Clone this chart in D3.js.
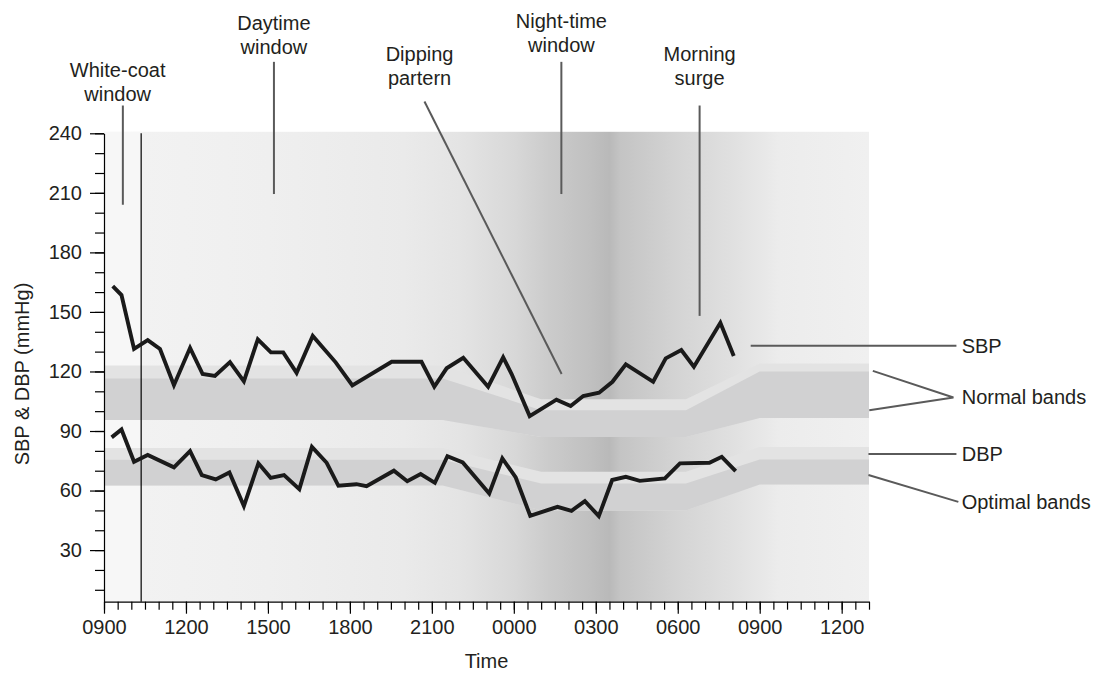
<!DOCTYPE html>
<html>
<head>
<meta charset="utf-8">
<script src="https://cdn.jsdelivr.net/npm/d3@7/dist/d3.min.js"></script>
<style>
  body { margin: 0; background: #fff; }
  text { font-family: "Liberation Sans", Arial, Helvetica, sans-serif; fill: #231f20; }
  .axis path, .axis line { stroke: #000; stroke-width: 1.2; }
  .axis text { font-size: 20px; fill: #231f20; }
</style>
</head>
<body>
<div id="chart"></div>
<script>
// readings, time in hours from midnight of day 1 (24 = 0000 next day)
var sbpTimes  = [9.32, 9.64, 10.10, 10.60, 11.05, 11.56, 12.15, 12.61, 13.06, 13.61, 14.12, 14.63, 15.11, 15.56, 16.05, 16.64, 17.48, 18.09, 19.53, 20.62, 21.09, 21.54, 22.15, 23.06, 23.61, 23.92, 24.58, 25.56, 26.08, 26.54, 27.12, 27.61, 28.10, 29.10, 29.56, 30.13, 30.59, 31.56, 32.05];
var sbpValues = [163, 158.5, 131.4, 135.8, 131.3, 113.1, 131.9, 118.7, 117.7, 124.7, 115.0, 136.2, 129.6, 129.6, 119.3, 137.9, 124.6, 113.0, 124.9, 124.9, 112.3, 121.6, 126.9, 112.3, 127.1, 118.7, 97.5, 105.8, 102.6, 107.6, 109.3, 114.8, 123.6, 114.8, 126.6, 130.8, 122.4, 144.5, 127.8];

var dbpTimes  = [9.28, 9.64, 10.10, 10.60, 11.56, 12.15, 12.58, 13.09, 13.59, 14.12, 14.65, 15.10, 15.59, 16.15, 16.61, 17.15, 17.58, 18.24, 18.61, 19.61, 20.10, 20.59, 21.11, 21.57, 22.13, 23.10, 23.58, 24.07, 24.60, 25.60, 26.11, 26.60, 27.11, 27.60, 28.10, 28.61, 29.53, 30.08, 31.16, 31.61, 32.12];
var dbpValues = [86.8, 90.8, 74.5, 77.9, 71.7, 79.9, 67.8, 65.6, 69.1, 52.2, 73.7, 66.4, 67.8, 60.7, 82.0, 74.0, 62.4, 63.2, 62.2, 70.0, 64.7, 68.3, 63.9, 77.3, 74.2, 58.5, 76.2, 66.6, 47.3, 51.8, 49.8, 54.7, 47.1, 65.3, 66.9, 64.9, 66.1, 73.7, 74.0, 77.0, 69.8];

// reference bands (mmHg), day -> night -> day
var bandTimes   = [9, 21.4, 25.0, 30.3, 33.0, 37];
var sbpOuterTop = [123, 123, 106, 106, 124, 124];
var sbpInnerTop = [116.5, 116.5, 100.5, 100.5, 120, 120];
var sbpBottom   = [95.5, 95.5, 87, 87, 96.5, 96.5];
var dbpOuterTop = [81.5, 81.5, 69.5, 69.5, 82, 82];
var dbpInnerTop = [75.5, 75.5, 63.6, 63.6, 75.6, 75.6];
var dbpBottom   = [62.5, 62.5, 50, 50, 63, 63];

var whiteCoatEnd = 10.36;

var xTickHours  = [9, 12, 15, 18, 21, 24, 27, 30, 33, 36];
var xTickLabels = ["0900", "1200", "1500", "1800", "2100", "0000", "0300", "0600", "0900", "1200"];
var yTicks = [30, 60, 90, 120, 150, 180, 210, 240];

var width = 1100, height = 673;

var x = d3.scaleLinear().domain([9, 37]).range([104, 869]);
var y = d3.scaleLinear().domain([4, 240]).range([601.7, 133.3]);

var svg = d3.select("#chart").append("svg")
    .attr("width", width)
    .attr("height", height);

// background shading, darkest in the small hours
var grad = svg.append("defs").append("linearGradient")
    .attr("id", "bg")
    .attr("gradientUnits", "userSpaceOnUse")
    .attr("x1", x(9)).attr("x2", x(37))
    .attr("y1", 0).attr("y2", 0);

var stops = [[9, "#f4f4f4"], [10.36, "#f2f2f2"], [15, "#efefef"], [20, "#eaeaea"], [22, "#e4e4e4"],
             [24, "#d8d8d8"], [25.3, "#cbcbcb"], [26.8, "#c0c0c0"], [27.5, "#b9b9b9"], [27.9, "#c4c4c4"],
             [30, "#d4d4d4"], [32.3, "#e2e2e2"], [33.7, "#ececec"], [37, "#f0f0f0"]];
grad.selectAll("stop").data(stops).enter().append("stop")
    .attr("offset", function(d) { return (d[0] - 9) / 28; })
    .attr("stop-color", function(d) { return d[1]; });

svg.append("rect")
    .attr("x", x(9)).attr("y", y(240) - 1.5)
    .attr("width", x(37) - x(9)).attr("height", y(4) - y(240) + 1.5)
    .style("fill", "url(#bg)");

svg.append("rect")
    .attr("x", x(9)).attr("y", y(240) - 1.5)
    .attr("width", x(whiteCoatEnd) - x(9)).attr("height", y(4) - y(240) + 1.5)
    .style("fill", "#f7f7f7");

// bands
function band(lo, hi) {
  return bandTimes.map(function(t, i) { return { t: t, lo: lo[i], hi: hi[i] }; });
}
var area = d3.area()
    .x(function(d) { return x(d.t); })
    .y0(function(d) { return y(d.lo); })
    .y1(function(d) { return y(d.hi); });

[[sbpBottom, sbpOuterTop, "#e3e3e3"], [sbpBottom, sbpInnerTop, "#d1d1d2"],
 [dbpBottom, dbpOuterTop, "#e3e3e3"], [dbpBottom, dbpInnerTop, "#d1d1d2"]].forEach(function(b) {
  svg.append("path").attr("d", area(band(b[0], b[1]))).style("fill", b[2]);
});

// end of white-coat window
svg.append("line")
    .attr("x1", x(whiteCoatEnd)).attr("x2", x(whiteCoatEnd))
    .attr("y1", y(240)).attr("y2", y(4))
    .style("stroke", "#000").style("stroke-width", 1.2);

// BP traces
var line = d3.line()
    .x(function(d) { return x(d[0]); })
    .y(function(d) { return y(d[1]); });

[[sbpTimes, sbpValues], [dbpTimes, dbpValues]].forEach(function(s) {
  svg.append("path")
      .attr("d", line(d3.zip(s[0], s[1])))
      .style("fill", "none")
      .style("stroke", "#1a1a1a")
      .style("stroke-width", 3.9)
      .style("stroke-linejoin", "miter")
      .style("stroke-miterlimit", 3);
});

// axes
svg.append("g").attr("class", "axis")
    .attr("transform", "translate(" + x(9) + ",0)")
    .call(d3.axisLeft(y).tickValues(d3.range(10, 241, 10)).tickSize(9).tickSizeOuter(0).tickFormat(""));
svg.append("g").attr("class", "axis")
    .attr("transform", "translate(" + x(9) + ",0)")
    .call(d3.axisLeft(y).tickValues(yTicks).tickSize(14).tickPadding(8).tickSizeOuter(0))
    .select(".domain").remove();

svg.append("g").attr("class", "axis")
    .attr("transform", "translate(0," + y(4) + ")")
    .call(d3.axisBottom(x).tickValues(d3.range(9, 37.01, 0.5)).tickSize(8).tickSizeOuter(0).tickFormat(""));
svg.append("g").attr("class", "axis")
    .attr("transform", "translate(0," + y(4) + ")")
    .call(d3.axisBottom(x).tickValues(xTickHours).tickSize(12).tickPadding(6).tickSizeOuter(0)
      .tickFormat(function(d, i) { return xTickLabels[i]; }))
    .select(".domain").remove();

svg.append("text")
    .attr("transform", "translate(29," + 374 + ") rotate(-90)")
    .attr("text-anchor", "middle")
    .style("font-size", "20px")
    .text("SBP & DBP (mmHg)");

svg.append("text")
    .attr("x", (x(9) + x(37)) / 2).attr("y", 668)
    .attr("text-anchor", "middle")
    .style("font-size", "20px")
    .text("Time");

// annotation pointers (hours, mmHg)
var pointers = [
  [[9.69, 254], [9.69, 204]],
  [[15.22, 276], [15.22, 209.4]],
  [[25.74, 276], [25.74, 209.4]],
  [[30.80, 254], [30.80, 148]],
  [[20.73, 256], [25.75, 118.7]],
  [[32.67, 133], [40.2, 133]],
  [[37.14, 120.3], [40.09, 106.9], [37.01, 100.5]],
  [[36.98, 78.4], [40.2, 78.4]],
  [[36.98, 67.8], [40.27, 54.3]]
];
var pline = d3.line()
    .x(function(d) { return x(d[0]); })
    .y(function(d) { return y(d[1]); });
pointers.forEach(function(p) {
  svg.append("path").attr("d", pline(p))
      .style("fill", "none").style("stroke", "#5a5a5a").style("stroke-width", 2);
});

// top labels
var topLabels = [
  { t: 9.50,  lines: ["White-coat", "window"], y0: 77 },
  { t: 15.22, lines: ["Daytime", "window"], y0: 30 },
  { t: 20.55, lines: ["Dipping", "partern"], y0: 61 },
  { t: 25.74, lines: ["Night-time", "window"], y0: 28 },
  { t: 30.80, lines: ["Morning", "surge"], y0: 61 }
];
topLabels.forEach(function(l) {
  var txt = svg.append("text")
      .attr("text-anchor", "middle")
      .style("font-size", "20px");
  l.lines.forEach(function(s, i) {
    txt.append("tspan").attr("x", x(l.t)).attr("y", l.y0 + i * 24).text(s);
  });
});

// right labels
var sideLabels = [["SBP", 133], ["Normal bands", 106.9], ["DBP", 78.4], ["Optimal bands", 54.3]];
svg.selectAll(".side").data(sideLabels).enter().append("text")
    .attr("class", "side")
    .attr("x", 961.7)
    .attr("y", function(d) { return y(d[1]); })
    .attr("dy", "0.35em")
    .style("font-size", "20px")
    .text(function(d) { return d[0]; });
</script>
</body>
</html>
